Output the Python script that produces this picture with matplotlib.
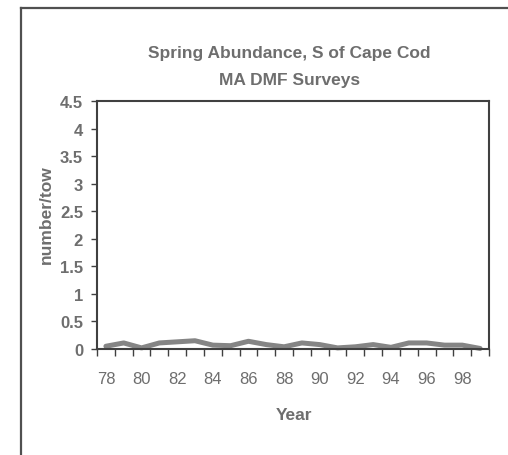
import matplotlib
matplotlib.use("Agg")
import matplotlib.pyplot as plt
from matplotlib.lines import Line2D
from matplotlib import font_manager
import numpy as np

years = [78, 79, 80, 81, 82, 83, 84, 85, 86, 87, 88, 89, 90, 91, 92, 93, 94, 95, 96, 97, 98, 99]
abundance = [0.05, 0.11, 0.02, 0.11, 0.13, 0.15, 0.07, 0.06, 0.14, 0.08, 0.04, 0.11,
             0.08, 0.02, 0.04, 0.08, 0.03, 0.11, 0.11, 0.07, 0.07, 0.01]
ytick_vals = [0, 0.5, 1, 1.5, 2, 2.5, 3, 3.5, 4, 4.5]
ytick_labels = ["0", "0.5", "1", "1.5", "2", "2.5", "3", "3.5", "4", "4.5"]
xtick_labels = ["78", "80", "82", "84", "86", "88", "90", "92", "94", "96", "98"]

W, H = 508, 456
fig = plt.figure(figsize=(W / 100, H / 100), dpi=100)
fig.patch.set_facecolor("white")

txt = "#6e6e6e"
font = ["Liberation Sans", "DejaVu Sans"]
names = {f.name for f in font_manager.fontManager.ttflist}
narrow = ["Liberation Sans Narrow", "Liberation Sans", "DejaVu Sans"] if "Liberation Sans Narrow" in names else font
xfs = 14 if "Liberation Sans Narrow" in names else 12

# outer frame (extends beyond image on right/bottom)
fig.add_artist(Line2D([21 / W, 21 / W], [0, 1 - 9 / H], color="#505050", lw=1.6, transform=fig.transFigure))
fig.add_artist(Line2D([21 / W, 1.0], [1 - 9 / H, 1 - 9 / H], color="#505050", lw=1.6, transform=fig.transFigure))

l, r, t, b = 97, 489, 102, 350
ax = fig.add_axes([l / W, 1 - b / H, (r - l) / W, (b - t) / H])

x = np.arange(len(years))
ax.plot(x, abundance, color="#858585", lw=3.6, solid_joinstyle="round", solid_capstyle="round", clip_on=False)

ax.set_xlim(-0.5, len(years) - 0.5)
ax.set_ylim(0, 4.5)

for s in ax.spines.values():
    s.set_color("#404040")
    s.set_linewidth(1.5)

ax.set_yticks(ytick_vals)
ax.set_yticklabels(ytick_labels, fontsize=12, color=txt, family=font, fontweight="bold")
ax.tick_params(axis="y", direction="out", length=4, width=1, color="#404040", pad=6)

# category boundaries as major ticks, labels at every other category as minor ticks
ax.set_xticks(np.arange(-0.5, len(years) + 0.5, 1.0))
ax.set_xticklabels([])
ax.tick_params(axis="x", which="major", direction="out", length=5, width=1, color="#404040")
lab_pos = [years.index(int(s)) for s in xtick_labels]
ax.set_xticks(lab_pos, minor=True)
ax.set_xticklabels(xtick_labels, minor=True, fontsize=xfs, color=txt, family=narrow)
ax.tick_params(axis="x", which="minor", length=0, pad=16)

fig.text(289 / W, 1 - 58 / H, "Spring Abundance, S of Cape Cod", ha="center", va="baseline",
         fontsize=12.5, fontweight="bold", color=txt, family=font)
fig.text(290 / W, 1 - 85.5 / H, "MA DMF Surveys", ha="center", va="baseline",
         fontsize=12.5, fontweight="bold", color=txt, family=font)
fig.text(46 / W, 1 - 215 / H, "number/tow", rotation=90, ha="center", va="center",
         fontsize=12.5, fontweight="bold", color=txt, family=font)
fig.text(294 / W, 1 - 420 / H, "Year", ha="center", va="baseline",
         fontsize=12.5, fontweight="bold", color=txt, family=font)

fig.savefig("out.png", dpi=100, facecolor="white")
